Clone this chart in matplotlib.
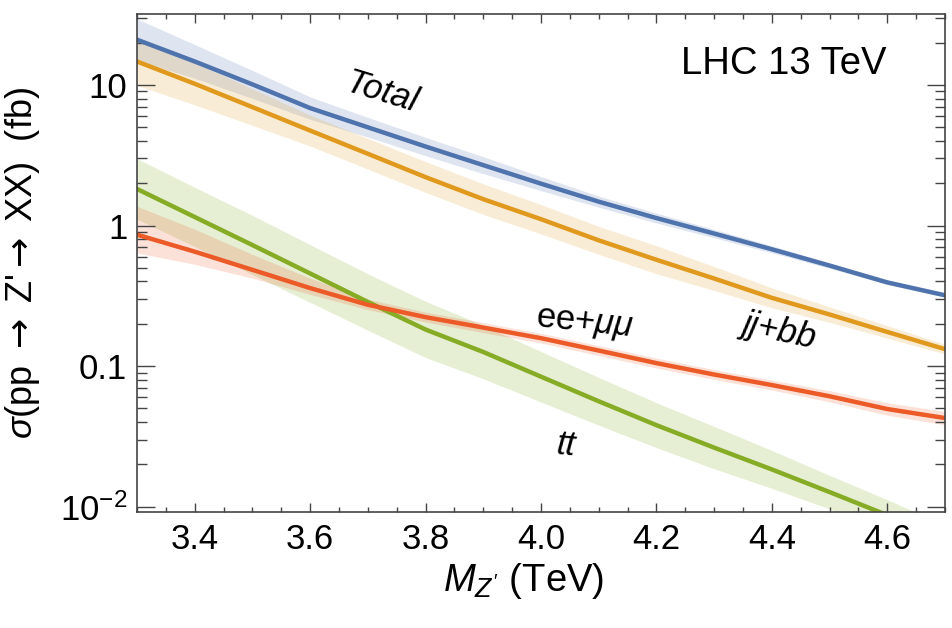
import matplotlib
matplotlib.use("Agg")
import matplotlib.pyplot as plt
from matplotlib.ticker import FixedLocator, NullFormatter, LogLocator
import numpy as np

plt.rcParams['font.family'] = ['Liberation Sans', 'DejaVu Sans']
plt.rcParams['mathtext.fontset'] = 'custom'
plt.rcParams['mathtext.rm'] = 'Liberation Sans'
plt.rcParams['mathtext.it'] = 'Liberation Sans:italic'
plt.rcParams['mathtext.bf'] = 'Liberation Sans:bold'
plt.rcParams['mathtext.sf'] = 'DejaVu Sans'

# Z' mass grid (TeV)
mass = [3.3, 3.4, 3.5, 3.6, 3.7, 3.8, 3.9, 4.0, 4.1, 4.2, 4.3, 4.4, 4.5, 4.6, 4.7]

# cross sections (fb), central + band edges
total = [21.0, 14.7, 10.1, 6.85, 5.0, 3.65, 2.69, 1.986, 1.479, 1.13, 0.877, 0.678, 0.519, 0.394, 0.319]
total_hi = [29.5, 19.4, 12.7, 8.23, 5.88, 4.24, 3.09, 2.23, 1.62, 1.225, 0.940, 0.718, 0.543, 0.408, 0.328]
total_lo = [14.97, 11.15, 8.02, 5.70, 4.26, 3.14, 2.34, 1.77, 1.35, 1.042, 0.818, 0.640, 0.496, 0.381, 0.310]

jjbb = [14.7, 10.2, 6.96, 4.74, 3.24, 2.21, 1.54, 1.11, 0.785, 0.571, 0.42, 0.306, 0.233, 0.175, 0.132]
jjbb_hi = [21.7, 14.4, 9.39, 6.11, 4.17, 2.85, 1.98, 1.41, 0.988, 0.719, 0.511, 0.360, 0.264, 0.194, 0.143]
jjbb_lo = [9.94, 7.22, 5.16, 3.68, 2.52, 1.72, 1.20, 0.871, 0.624, 0.454, 0.345, 0.260, 0.205, 0.158, 0.122]

tt = [1.82, 1.15, 0.726, 0.456, 0.286, 0.182, 0.126, 0.0841, 0.0562, 0.038, 0.0263, 0.0184, 0.0127, 0.0087, 0.0059]
tt_hi = [2.99, 1.87, 1.18, 0.731, 0.453, 0.289, 0.195, 0.127, 0.0831, 0.0549, 0.0372, 0.0251, 0.0167, 0.0112, 0.0074]
tt_lo = [1.11, 0.709, 0.448, 0.284, 0.180, 0.115, 0.0813, 0.0555, 0.0380, 0.0263, 0.0186, 0.0135, 0.00964, 0.00675, 0.0047]

ll = [0.861, 0.652, 0.484, 0.359, 0.273, 0.223, 0.188, 0.158, 0.129, 0.105, 0.0871, 0.0733, 0.0610, 0.0495, 0.0427]
ll_hi = [1.37, 0.942, 0.623, 0.422, 0.299, 0.242, 0.204, 0.171, 0.140, 0.114, 0.0944, 0.0795, 0.0669, 0.0548, 0.0476]
ll_lo = [0.638, 0.530, 0.422, 0.324, 0.252, 0.206, 0.173, 0.146, 0.119, 0.0969, 0.0804, 0.0676, 0.0557, 0.0447, 0.0383]

c_blue = '#4f73ad'
c_orange = '#e0991d'
c_green = '#86ab24'
c_red = '#ec5a27'

fig = plt.figure(figsize=(9.53, 6.28), dpi=100)
ax = fig.add_axes([0.1438, 0.1847, 0.8478, 0.793])

# bands
ax.fill_between(mass, total_lo, total_hi, color=c_blue, alpha=0.18, lw=0)
ax.fill_between(mass, jjbb_lo, jjbb_hi, color=c_orange, alpha=0.18, lw=0)
ax.fill_between(mass, tt_lo, tt_hi, color=c_green, alpha=0.2, lw=0)
ax.fill_between(mass, ll_lo, ll_hi, color=c_red, alpha=0.18, lw=0)

# central curves
ax.plot(mass, total, color=c_blue, lw=3.2)
ax.plot(mass, jjbb, color=c_orange, lw=3.2)
ax.plot(mass, tt, color=c_green, lw=3.2)
ax.plot(mass, ll, color=c_red, lw=3.2)

ax.set_yscale('log')
ax.set_xlim(3.3, 4.7)
ax.set_ylim(0.00916, 32)

# ticks, Mathematica style
ax.xaxis.set_major_locator(FixedLocator([3.4, 3.6, 3.8, 4.0, 4.2, 4.4, 4.6]))
ax.xaxis.set_minor_locator(FixedLocator(np.arange(3.3, 4.71, 0.05)))
ax.set_xticklabels(['3.4', '3.6', '3.8', '4.0', '4.2', '4.4', '4.6'])
ax.yaxis.set_major_locator(FixedLocator([0.01, 0.1, 1, 10]))
ax.set_yticklabels([r'$10^{-2}$', '0.1', '1', '10'])
ax.yaxis.set_minor_locator(LogLocator(base=10, subs=np.arange(2, 10), numticks=20))
ax.yaxis.set_minor_formatter(NullFormatter())

ax.tick_params(axis='both', which='both', direction='in', top=True, right=True,
               color='#444444', width=1.0, labelsize=25, labelcolor='black')
ax.tick_params(axis='x', which='major', length=6.5, pad=8)
ax.tick_params(axis='x', which='minor', length=3.4)
ax.tick_params(axis='y', which='major', length=13, pad=7)
ax.tick_params(axis='y', which='minor', length=7.2)
for s in ax.spines.values():
    s.set_color('#444444')
    s.set_linewidth(1.2)

ax.set_xlabel(r"$M_{Z'}$ (TeV)", fontsize=27.5)
ax.xaxis.set_label_coords(0.479, -0.098)
ax.set_ylabel(r"$\sigma$(pp $\mathsf{\rightarrow}$ Z'$\mathsf{\rightarrow}$ XX)  (fb)", fontsize=26)
ax.yaxis.set_label_coords(-0.118, 0.5)

# curve labels
ax.text(3.724, 8.77, 'Total', style='italic', fontsize=25, rotation=-17,
        ha='center', va='center')
ax.text(4.414, 0.179, 'jj+bb', style='italic', fontsize=25, rotation=-12,
        ha='center', va='center')
ax.text(4.075, 0.202, r'ee+$\mu\mu$', fontsize=25, rotation=-6,
        ha='center', va='center')
ax.text(4.043, 0.0275, 'tt', style='italic', fontsize=25, rotation=-5,
        ha='center', va='center')
ax.text(0.8, 0.9, 'LHC 13 TeV', transform=ax.transAxes, fontsize=27.5,
        ha='center', va='center')

fig.savefig('out.png', dpi=100)
